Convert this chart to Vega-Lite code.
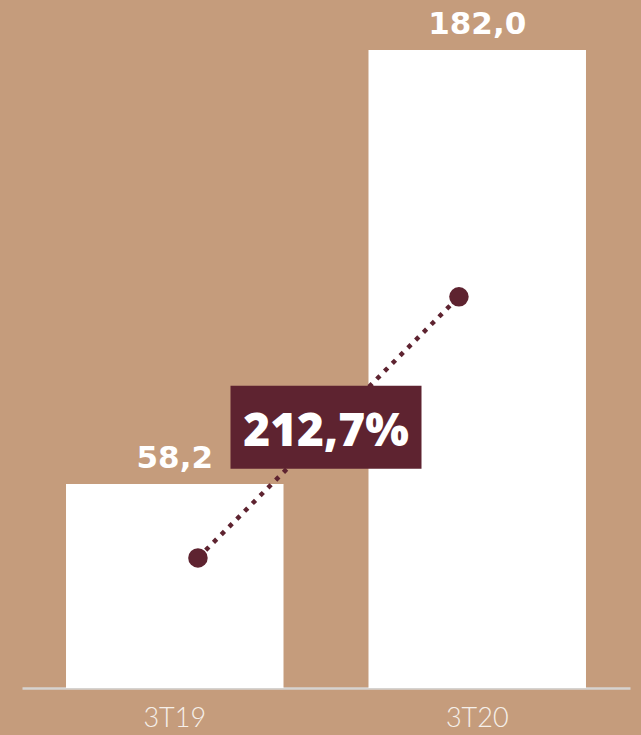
{
  "$schema": "https://vega.github.io/schema/vega-lite/v6.json",
  "width": 608,
  "height": 638,
  "autosize": {"type": "none"},
  "padding": {"left": 22, "top": 50, "right": 11, "bottom": 47},
  "background": "#C59C7C",
  "config": {"view": {"stroke": null}},
  "data": {
    "values": [
      {"period": "3T19", "value": 58.2, "label": "58,2", "trend": 37.1},
      {"period": "3T20", "value": 182.0, "label": "182,0", "trend": 111.6}
    ]
  },
  "layer": [
    {
      "encoding": {
        "x": {
          "field": "period",
          "type": "nominal",
          "scale": {"type": "band", "paddingInner": 0.281, "paddingOuter": 0.1455, "align": 0.5},
          "axis": {
            "title": null,
            "labelAngle": 0,
            "ticks": false,
            "grid": false,
            "domainColor": "#D6D3D0",
            "domainWidth": 2.5,
            "labelColor": "#F6F0EA",
            "labelFont": "Lato",
            "labelFontSize": 27,
            "labelFontWeight": 300,
            "labelPadding": 17
          }
        },
        "y": {
          "field": "value",
          "type": "quantitative",
          "scale": {"domain": [0, 182], "nice": false},
          "axis": null
        }
      },
      "layer": [
        {"mark": {"type": "bar", "color": "#FFFFFF"}},
        {
          "mark": {
            "type": "text",
            "color": "#FFFFFF",
            "font": "DejaVu Sans",
            "fontWeight": "bold",
            "fontSize": 31,
            "baseline": "alphabetic",
            "dy": -16
          },
          "encoding": {"text": {"field": "label"}}
        }
      ]
    },
    {
      "encoding": {
        "x": {
          "field": "period",
          "type": "nominal",
          "scale": {"type": "point", "padding": 0.6648, "align": 0.507},
          "axis": null
        },
        "y": {"field": "trend", "type": "quantitative"}
      },
      "layer": [
        {"mark": {"type": "line", "color": "#5E2330", "strokeWidth": 4.5, "strokeDash": [4.5, 6.5]}},
        {"mark": {"type": "circle", "size": 380, "color": "#5E2330", "opacity": 1}}
      ]
    },
    {
      "data": {"values": [{"growth": "212,7%", "level": 74.35}]},
      "encoding": {
        "x": {"datum": 0.5, "type": "quantitative", "scale": {"domain": [0, 1]}, "axis": null},
        "y": {"field": "level", "type": "quantitative"}
      },
      "layer": [
        {
          "mark": {
            "type": "point",
            "shape": "M-1,-0.4346L1,-0.4346L1,0.4346L-1,0.4346Z",
            "size": 36481,
            "filled": true,
            "color": "#5E2330",
            "opacity": 1
          }
        },
        {
          "mark": {
            "type": "text",
            "color": "#FFFFFF",
            "font": "Open Sans",
            "fontWeight": 800,
            "fontSize": 46,
            "baseline": "alphabetic",
            "dy": 19
          },
          "encoding": {"text": {"field": "growth"}}
        }
      ]
    }
  ],
  "resolve": {"scale": {"x": "independent"}}
}
